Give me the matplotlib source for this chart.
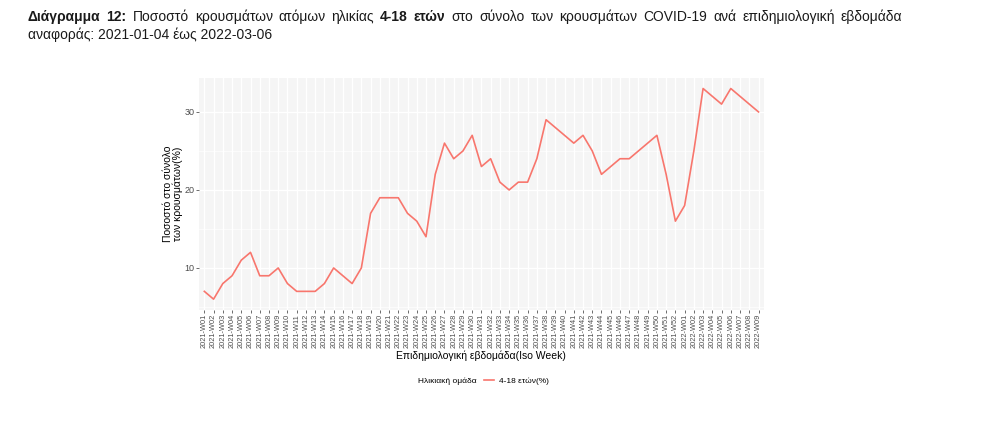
import matplotlib
matplotlib.use("Agg")
import matplotlib.pyplot as plt
from matplotlib.lines import Line2D

# εβδομάδες 2021-W01 .. 2022-W09
weeks = ["2021-W%02d" % i for i in range(1, 53)] + ["2022-W%02d" % i for i in range(1, 10)]

# ποσοστό 4-18 ετών (%)
pct = [7, 6, 8, 9, 11, 12, 9, 9, 10, 8,
       7, 7, 7, 8, 10, 9, 8, 10, 17, 19,
       19, 19, 17, 16, 14, 22, 26, 24, 25, 27,
       23, 24, 21, 20, 21, 21, 24, 29, 28, 27,
       26, 27, 25, 22, 23, 24, 24, 25, 26, 27,
       22, 16,
       18, 25, 33, 32, 31, 33, 32, 31, 30]

yticks = [10, 20, 30]

line_col = "#F8766D"
txt_col = "#4D4D4D"

fig = plt.figure(figsize=(10.04, 4.25), dpi=100)
ax = fig.add_axes([0.198, 0.2713, 0.563, 0.5452])

x = list(range(len(weeks)))
ax.plot(x, pct, color=line_col, lw=1.2, solid_joinstyle="round")

ax.set_facecolor("#F5F5F5")
ax.set_xlim(-0.6, len(weeks) - 0.4)
ax.set_ylim(4.65, 34.35)
ax.set_yticks(yticks)
ax.set_yticks([5, 15, 25], minor=True)
ax.set_xticks(x)
ax.set_xticklabels(weeks, rotation=90, fontsize=5.3, color=txt_col,
                   family="Liberation Sans")
ax.set_yticklabels([str(v) for v in yticks], fontsize=6.5, color=txt_col,
                   family="Liberation Sans")
ax.grid(True, which="major", color="white", lw=0.9)
ax.grid(True, which="minor", axis="y", color="white", lw=0.5)
ax.set_axisbelow(True)
for s in ax.spines.values():
    s.set_visible(False)
ax.tick_params(axis="both", which="major", length=2, width=0.5, color="#333333", pad=1)
ax.tick_params(axis="y", which="minor", length=0)

ax.set_xlabel("Επιδημιολογική εβδομάδα(Iso Week)", fontsize=7.5,
              family="Liberation Sans", labelpad=2)
ax.set_ylabel("Ποσοστό στο σύνολο\nτων κρουσμάτων(%)", fontsize=7.5,
              family="Liberation Sans", labelpad=1, linespacing=0.95)

# λεζάντα: τίτλος αριστερά, δείγμα γραμμής δεξιά
leg_y = 1 - 381 / 425
fig.text(477 / 1004, leg_y, "Ηλικιακή ομάδα", fontsize=6, family="Liberation Sans",
         ha="right", va="center")
handle = Line2D([], [], color=line_col, lw=1.2)
fig.legend([handle], ["4-18 ετών(%)"], loc="center left",
           bbox_to_anchor=(484 / 1004, leg_y), frameon=False,
           prop={"family": "Liberation Sans", "size": 6},
           handlelength=1.2, handletextpad=0.6, borderpad=0, borderaxespad=0)

# τίτλος, πλήρως στοιχισμένος στην πρώτη γραμμή
title_words = [("Διάγραμμα", True), ("12:", True), ("Ποσοστό", False),
               ("κρουσμάτων", False), ("ατόμων", False), ("ηλικίας", False),
               ("4-18", True), ("ετών", True), ("στο", False), ("σύνολο", False),
               ("των", False), ("κρουσμάτων", False), ("COVID-19", False),
               ("ανά", False), ("επιδημιολογική", False), ("εβδομάδα", False)]
fam = ["Liberation Sans Narrow", "Liberation Sans", "DejaVu Sans"]
fs = 10
renderer = fig.canvas.get_renderer()
x0, x1 = 28 / 1004, 902 / 1004
y1 = 1 - 17 / 425
texts = []
for w, b in title_words:
    t = fig.text(0, y1, w, fontsize=fs, family=fam, va="center", ha="left",
                 weight="bold" if b else "normal", color="#1a1a1a")
    texts.append(t)
widths = [t.get_window_extent(renderer).width / fig.bbox.width for t in texts]
gap = ((x1 - x0) - sum(widths)) / (len(texts) - 1)
pos = x0
for t, w in zip(texts, widths):
    t.set_x(pos)
    pos += w + gap

fig.text(x0, 1 - 35 / 425, "αναφοράς: 2021-01-04 έως 2022-03-06", fontsize=fs,
         family=fam, va="center", ha="left", color="#1a1a1a")

fig.savefig("out.png", dpi=100, facecolor="white")
